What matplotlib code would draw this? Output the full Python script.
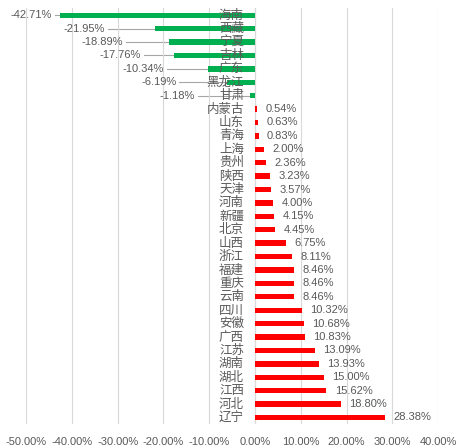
import numpy as np
import matplotlib
matplotlib.use("Agg")
import matplotlib.pyplot as plt

plt.rcParams['font.family'] = ['Liberation Sans', 'Noto Sans CJK SC', 'DejaVu Sans']

provinces = ['海南', '西藏', '宁夏', '吉林', '广东', '黑龙江', '甘肃', '内蒙古', '山东', '青海',
             '上海', '贵州', '陕西', '天津', '河南', '新疆', '北京', '山西', '浙江', '福建',
             '重庆', '云南', '四川', '安徽', '广西', '江苏', '湖南', '湖北', '江西', '河北', '辽宁']
growth = [-42.71, -21.95, -18.89, -17.76, -10.34, -6.19, -1.18, 0.54, 0.63, 0.83,
          2.00, 2.36, 3.23, 3.57, 4.00, 4.15, 4.45, 6.75, 8.11, 8.46,
          8.46, 8.46, 10.32, 10.68, 10.83, 13.09, 13.93, 15.00, 15.62, 18.80, 28.38]
# where the labels of the negative bars end (data units), as placed in the original
neg_label_x = [-44.3, -32.8, -28.8, -24.9, -19.9, -17.2, -13.1]
xticks = [-50, -40, -30, -20, -10, 0, 10, 20, 30, 40]

txt = '#595959'
fig = plt.figure(figsize=(4.67, 4.47), dpi=100)
ax = fig.add_axes([0.056, 0.051, 0.882, 0.930])

y = np.arange(len(provinces))
colors = ['#00B050' if v < 0 else '#FF0000' for v in growth]
ax.barh(y, growth, height=0.4, color=colors, zorder=2)

for i, (name, v) in enumerate(zip(provinces, growth)):
    ax.text(-2.4, i, name, ha='right', va='center', fontsize=9, color=txt, zorder=3,
            family=['Noto Sans CJK SC', 'DejaVu Sans'])
    if v < 0:
        lx = neg_label_x[i]
        ax.text(lx, i, f'{v:.2f}%', ha='right', va='center', fontsize=8, color=txt)
        if v - lx > 1.5:
            ax.plot([lx + 0.7, v], [i, i], color='#A6A6A6', lw=0.8, zorder=1)
    else:
        ax.annotate(f'{v:.2f}%', (v, i), xytext=(6, 0), textcoords='offset points',
                    ha='left', va='center', fontsize=8, color=txt)

ax.set_xlim(-50, 40)
ax.set_ylim(len(provinces) - 0.5, -0.5)
ax.set_xticks(xticks)
ax.set_xticklabels([f'{t:.2f}%' for t in xticks], fontsize=8, color=txt)
ax.set_yticks([])
ax.tick_params(axis='x', length=0, pad=9)
ax.grid(axis='x', color='#D9D9D9', lw=0.8, zorder=0)
ax.axvline(0, color='#BFBFBF', lw=0.8, zorder=1)
for s in ax.spines.values():
    s.set_visible(False)

fig.savefig('out.png', dpi=100)
